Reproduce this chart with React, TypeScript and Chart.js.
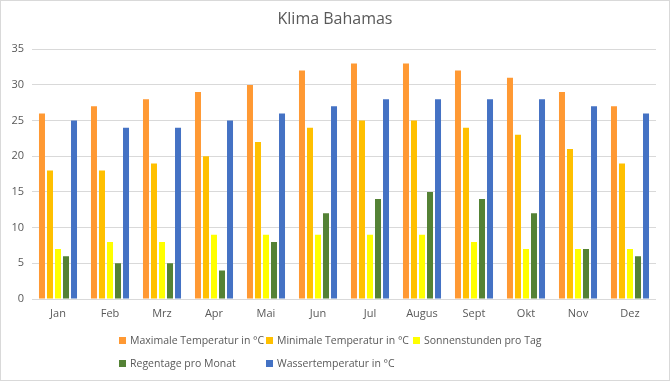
import React, { useEffect, useRef } from "react";
import { Chart, registerables } from "chart.js";

Chart.register(...registerables);

const months = ["Jan", "Feb", "Mrz", "Apr", "Mai", "Jun", "Jul", "Augus", "Sept", "Okt", "Nov", "Dez"];
const maxTemp = [26, 27, 28, 29, 30, 32, 33, 33, 32, 31, 29, 27];
const minTemp = [18, 18, 19, 20, 22, 24, 25, 25, 24, 23, 21, 19];
const sunHours = [7, 8, 8, 9, 9, 9, 9, 9, 8, 7, 7, 7];
const rainDays = [6, 5, 5, 4, 8, 12, 14, 15, 14, 12, 7, 6];
const waterTemp = [25, 24, 24, 25, 26, 27, 28, 28, 28, 28, 27, 26];

const seriesNames = [
  "Maximale Temperatur in °C",
  "Minimale Temperatur in °C",
  "Sonnenstunden pro Tag",
  "Regentage pro Monat",
  "Wassertemperatur in °C",
];
const seriesColors = ["#FF9933", "#FFC000", "#FFFF00", "#548235", "#4472C4"];
const seriesData = [maxTemp, minTemp, sunHours, rainDays, waterTemp];

const FONT = "'Open Sans', 'Liberation Sans', sans-serif";
const TEXT = "#595959";

export default function App() {
  const ref = useRef<HTMLCanvasElement | null>(null);

  useEffect(() => {
    document.body.style.margin = "0";
    if (!ref.current) return;
    const chart = new Chart(ref.current, {
      type: "bar",
      data: {
        labels: months,
        datasets: seriesNames.map((name, i) => ({
          label: name,
          data: seriesData[i],
          backgroundColor: seriesColors[i],
          borderWidth: 0,
          barPercentage: 0.75,
          categoryPercentage: 0.77,
          yAxisID: "y",
        })),
      },
      options: {
        animation: false,
        responsive: false,
        maintainAspectRatio: false,
        layout: { padding: { left: 0, right: 0, top: 0, bottom: 56 } },
        plugins: {
          legend: { display: false },
          tooltip: { enabled: false },
          title: {
            display: true,
            text: "Klima Bahamas",
            color: TEXT,
            font: { family: FONT, size: 16, weight: "normal" },
            padding: { top: 9, bottom: 20 },
          },
        },
        scales: {
          x: {
            grid: { display: false, drawTicks: false },
            border: { display: false },
            ticks: { color: TEXT, font: { family: FONT, size: 11 }, padding: 8, maxRotation: 0, autoSkip: false },
            afterFit: (s: any) => {
              s.height = 25;
            },
          },
          y: {
            min: 0,
            max: 35,
            grid: { color: "#D9D9D9", drawTicks: false },
            border: { display: false },
            ticks: { stepSize: 5, color: TEXT, font: { family: FONT, size: 11 }, padding: 8 },
            afterFit: (s: any) => {
              s.width = 31;
            },
          },
          y2: {
            position: "right",
            display: true,
            grid: { display: false, drawTicks: false },
            border: { display: false },
            ticks: { display: false },
            afterFit: (s: any) => {
              s.width = 13;
            },
          },
        },
      },
    });
    return () => chart.destroy();
  }, []);

  const legendItem = (i: number) => (
    <div key={i} style={{ display: "flex", alignItems: "center", whiteSpace: "nowrap" }}>
      <span
        style={{
          width: 7,
          height: 7,
          flexShrink: 0,
          background: seriesColors[i],
          display: "inline-block",
          marginRight: 4,
        }}
      />
      <span>{seriesNames[i]}</span>
    </div>
  );

  return (
    <div
      style={{
        position: "relative",
        width: 670,
        height: 381,
        boxSizing: "border-box",
        border: "1px solid #D9D9D9",
        background: "#fff",
        fontFamily: FONT,
      }}
    >
      <canvas ref={ref} width={668} height={379} style={{ display: "block" }} />
      <div
        style={{
          position: "absolute",
          left: 118,
          top: 331,
          fontSize: 10.5,
          color: TEXT,
          display: "grid",
          gridTemplateColumns: "147px 147px auto",
          rowGap: 7,
          lineHeight: "16px",
        }}
      >
        {legendItem(0)}
        {legendItem(1)}
        {legendItem(2)}
        {legendItem(3)}
        {legendItem(4)}
      </div>
    </div>
  );
}
